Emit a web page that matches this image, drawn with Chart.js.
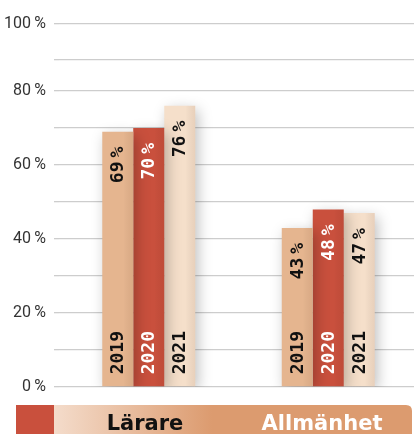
<!DOCTYPE html>
<html>
<head>
<meta charset="utf-8">
<script src="https://cdn.jsdelivr.net/npm/chart.js@4"></script>
<style>
html,body{margin:0;padding:0;background:#fff;overflow:hidden;width:414px;height:434px;}
canvas{display:block;}
</style>
</head>
<body>
<canvas id="c" width="418" height="434"></canvas>
<script>
const categories = ['Lärare', 'Allmänhet'];
const years = ['2019', '2020', '2021'];
const values2019 = [69, 43];
const values2020 = [70, 48];
const values2021 = [76, 47];
// gridline values as drawn in the picture (top two lines sit slightly low in the original)
const gridValues = [0, 10, 20, 30, 40, 50, 60, 70, 80, 88.4, 98.1];
const gridLabels = ['0\u2009%', '', '20\u2009%', '', '40\u2009%', '', '60\u2009%', '', '80\u2009%', '', '100\u2009%'];

const colors = ['#e5b58f', '#c9503d', '#f5dfca'];
const textColors = ['#111', '#fff', '#111'];

const shadowPlugin = {
  id: 'shadow',
  beforeDatasetsDraw(chart) {
    const ctx = chart.ctx;
    ctx.save();
    ctx.shadowColor = 'rgba(0,0,0,0.25)';
    ctx.shadowBlur = 14;
    ctx.shadowOffsetX = 3;
    ctx.shadowOffsetY = 4;
  },
  afterDatasetsDraw(chart) {
    const ctx = chart.ctx;
    ctx.restore();
    chart.data.datasets.forEach((ds, di) => {
      const meta = chart.getDatasetMeta(di);
      meta.data.forEach((bar, i) => {
        const right = bar.x + bar.width / 2;
        const g = ctx.createLinearGradient(right - 10, 0, right, 0);
        g.addColorStop(0, 'rgba(0,0,0,0)');
        g.addColorStop(1, 'rgba(90,30,0,0.08)');
        ctx.fillStyle = g;
        ctx.fillRect(right - 10, bar.y, 10, bar.base - bar.y);

        ctx.save();
        ctx.fillStyle = textColors[di];
        ctx.font = 'bold 18px "DejaVu Sans Mono"';
        ctx.textBaseline = 'middle';
        ctx.translate(bar.x + 1, bar.y + 15);
        ctx.rotate(-Math.PI / 2);
        ctx.textAlign = 'right';
        const pw = ctx.measureText('%').width;
        ctx.fillText('%', 0, 0);
        ctx.fillText(String(ds.data[i]), -pw - 4, 0);
        ctx.restore();

        ctx.save();
        ctx.fillStyle = textColors[di];
        ctx.font = 'bold 18px "DejaVu Sans Mono"';
        ctx.textBaseline = 'middle';
        ctx.translate(bar.x + 1, bar.base - 12);
        ctx.rotate(-Math.PI / 2);
        ctx.textAlign = 'left';
        ctx.fillText(ds.label, 0, 0);
        ctx.restore();
      });
    });
  },
  afterDraw(chart) {
    const ctx = chart.ctx;
    ctx.save();
    const top = 405, bottom = 434;
    ctx.fillStyle = '#c9503d';
    ctx.fillRect(16, top, 38, bottom - top);
    const g = ctx.createLinearGradient(54, 0, 212, 0);
    g.addColorStop(0, '#f4dccb');
    g.addColorStop(1, '#dc9b6f');
    ctx.fillStyle = g;
    ctx.beginPath();
    const r = 6, L = 54, R = 412;
    ctx.moveTo(L, top);
    ctx.lineTo(R - r, top);
    ctx.quadraticCurveTo(R, top, R, top + r);
    ctx.lineTo(R, bottom);
    ctx.lineTo(L, bottom);
    ctx.closePath();
    ctx.fill();
    ctx.font = 'bold 21px "DejaVu Sans"';
    ctx.textAlign = 'center';
    ctx.textBaseline = 'alphabetic';
    ctx.fillStyle = '#111';
    ctx.fillText(categories[0], 145, 430);
    ctx.fillStyle = '#fff';
    ctx.fillText(categories[1], 322, 430);
    ctx.restore();
  }
};

new Chart(document.getElementById('c'), {
  type: 'bar',
  data: {
    labels: categories,
    datasets: [
      { label: years[0], data: values2019, backgroundColor: colors[0] },
      { label: years[1], data: values2020, backgroundColor: colors[1] },
      { label: years[2], data: values2021, backgroundColor: colors[2] }
    ]
  },
  options: {
    responsive: false,
    animation: false,
    devicePixelRatio: 1,
    layout: { padding: { top: 24, bottom: 47, left: 0, right: 0 } },
    datasets: { bar: { categoryPercentage: 0.518, barPercentage: 1.0, borderWidth: 0 } },
    plugins: { legend: { display: false }, tooltip: { enabled: false } },
    scales: {
      x: { display: false },
      y: {
        min: 0, max: gridValues[gridValues.length - 1],
        afterFit(scale) { scale.width = 59; },
        afterBuildTicks(scale) { scale.ticks = gridValues.map(v => ({ value: v })); },
        border: { display: false },
        grid: { color: '#cdcdcd', lineWidth: 1.3, drawTicks: true, tickLength: 5 },
        ticks: {
          padding: 8,
          color: '#333',
          font: { family: 'Roboto', size: 16 },
          callback: (v, idx) => gridLabels[idx]
        }
      }
    }
  },
  plugins: [shadowPlugin]
});
</script>
</body>
</html>
